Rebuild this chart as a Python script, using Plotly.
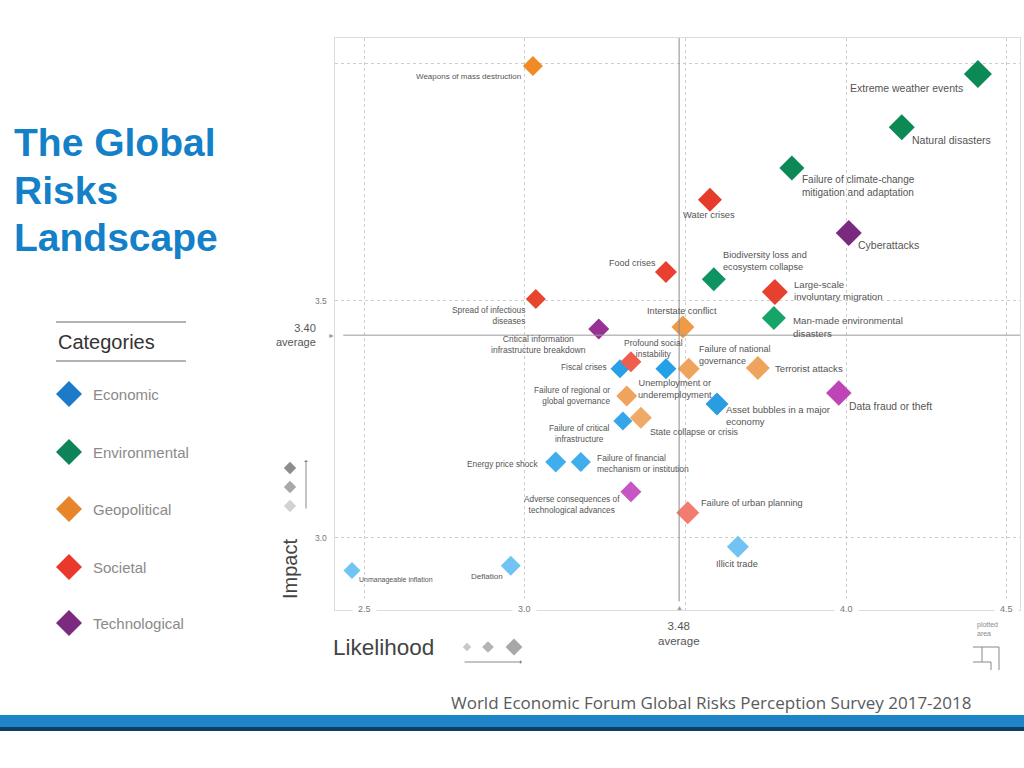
import plotly.graph_objects as go

W, H = 1024, 768

# ---------------- data ----------------
risks = [
    "Weapons of mass destruction", "Extreme weather events", "Natural disasters",
    "Failure of climate-change mitigation and adaptation", "Water crises", "Cyberattacks",
    "Food crises", "Biodiversity loss and ecosystem collapse", "Large-scale involuntary migration",
    "Spread of infectious diseases", "Man-made environmental disasters", "Interstate conflict",
    "Critical information infrastructure breakdown", "Profound social instability", "Fiscal crises",
    "Unemployment or underemployment", "Failure of national governance", "Terrorist attacks",
    "Data fraud or theft", "Failure of regional or global governance", "Asset bubbles in a major economy",
    "Failure of critical infrastructure", "State collapse or crisis", "Energy price shock",
    "Failure of financial mechanism or institution", "Adverse consequences of technological advances",
    "Failure of urban planning", "Illicit trade", "Deflation", "Unmanageable inflation",
]
category = [
    "Geopolitical", "Environmental", "Environmental", "Environmental", "Societal", "Technological",
    "Societal", "Environmental", "Societal", "Societal", "Environmental", "Geopolitical",
    "Technological", "Societal", "Economic", "Economic", "Geopolitical", "Geopolitical",
    "Technological", "Geopolitical", "Economic", "Economic", "Geopolitical", "Economic",
    "Economic", "Technological", "Societal", "Economic", "Economic", "Economic",
]
likelihood = [
    3.025, 4.410, 4.173, 3.831, 3.576, 4.008,
    3.439, 3.588, 3.778, 3.034, 3.775, 3.492,
    3.230, 3.330, 3.296, 3.439, 3.510, 3.725,
    3.977, 3.317, 3.598, 3.305, 3.361, 3.096,
    3.174, 3.330, 3.507, 3.663, 2.956, 2.462,
]
impact = [
    3.994, 3.977, 3.865, 3.779, 3.712, 3.642,
    3.560, 3.545, 3.518, 3.503, 3.463, 3.444,
    3.440, 3.371, 3.356, 3.356, 3.356, 3.358,
    3.305, 3.299, 3.282, 3.246, 3.253, 3.160,
    3.160, 3.097, 3.053, 2.981, 2.941, 2.931,
]
categories = ["Economic", "Environmental", "Geopolitical", "Societal", "Technological"]
x_tick_vals = [2.5, 3.0, 3.5, 4.0, 4.5]
x_tick_text = ["2.5", "3.0", "", "4.0", "4.5"]
y_tick_vals = [3.0, 3.5, 4.0]
y_tick_text = ["3.0", "3.5", ""]
avg_likelihood = 3.48
avg_likelihood_label = "3.48"
avg_impact_label = "3.40"
avg_impact_line = 3.427   # where the average line is drawn in the source picture

# ---------------- styles ----------------
cat_colors = {"Economic": "#1B7BC8", "Environmental": "#0D8457", "Geopolitical": "#E8852A",
              "Societal": "#E8392C", "Technological": "#7C2A80"}
point_colors = [
    "#F08A24", "#0B8A55", "#0B8A55", "#0B8A55", "#E63A2A", "#7A2A7E",
    "#E94130", "#0E9460", "#E6402F", "#E8452F", "#17A468", "#EE9A46",
    "#9A3095", "#EE5E4E", "#27A0E6", "#22A0E8", "#EFA45E", "#EFA45E",
    "#BD45B5", "#EFA45E", "#2A9CE2", "#36A6EA", "#F0AA68", "#40AEEC",
    "#40AEEC", "#C556C3", "#F47B70", "#70C3F2", "#70C3F2", "#70C3F2",
]
marker_px = [20, 28, 26, 25, 24, 26, 22, 24, 26, 20, 24, 23, 21, 21, 19,
             21, 22, 24, 25.5, 21, 23, 19, 22, 21, 20, 21, 23, 22, 20, 17]
label_wrap = {
    "Failure of climate-change mitigation and adaptation": "Failure of climate-change<br>mitigation and adaptation",
    "Biodiversity loss and ecosystem collapse": "Biodiversity loss and<br>ecosystem collapse",
    "Large-scale involuntary migration": "Large-scale<br>involuntary migration",
    "Spread of infectious diseases": "Spread of infectious<br>diseases",
    "Man-made environmental disasters": "Man-made environmental<br>disasters",
    "Critical information infrastructure breakdown": "Critical information<br>infrastructure breakdown",
    "Profound social instability": "Profound social<br>instability",
    "Unemployment or underemployment": "Unemployment or<br>underemployment",
    "Failure of national governance": "Failure of national<br>governance",
    "Failure of regional or global governance": "Failure of regional or<br>global governance",
    "Asset bubbles in a major economy": "Asset bubbles in a major<br>economy",
    "Failure of critical infrastructure": "Failure of critical<br>infrastructure",
    "Failure of financial mechanism or institution": "Failure of financial<br>mechanism or institution",
    "Adverse consequences of technological advances": "Adverse consequences of<br>technological advances",
}
# (xanchor, xshift px, yshift px, align, font size)
label_style = [
    ("right", -10, -10, "right", 8), ("right", -13, -14, "right", 10.5), ("left", 8, -13, "left", 10.5),
    ("left", 8, -18, "left", 10), ("center", -1, -15, "center", 9.4), ("left", 7, -12, "left", 10.5),
    ("right", -8, 9, "right", 9), ("left", 7, 18, "left", 9.2), ("left", 17, 1, "left", 9.6),
    ("right", -9, -16, "right", 8.3), ("left", 17, -9, "left", 9.7), ("center", -1, 16, "center", 9.2),
    ("right", -11, -16, "center", 8.6), ("center", 23, 13, "center", 8.5), ("right", -11, 2, "right", 8.3),
    ("center", 9, -20, "center", 9.2), ("left", 8, 14, "left", 9), ("left", 15, -1, "left", 9.6),
    ("left", 8, -13, "left", 10.3), ("right", -15, 0, "right", 8.3), ("left", 7, -12, "left", 9.5),
    ("right", -11, -12, "center", 8.3), ("left", 7, -14, "left", 8.8), ("right", -16, -2, "right", 8.3),
    ("left", 14, -2, "left", 8.5), ("right", -9, -13, "center", 8.3), ("left", 11, 10, "left", 9.2),
    ("center", -1, -17, "center", 9.3), ("right", -6, -11, "right", 8), ("left", 5, -9, "left", 7),
]

FONT = "Liberation Sans, Arial, sans-serif"


def px(x):
    return x / W


def py(y):
    return 1 - y / H


# plot area in pixels
PL, PR, PT, PB = 335, 1020, 38, 610
X_RANGE = [2.409, 4.541]
Y_RANGE = [2.848, 4.053]

fig = go.Figure()

# data points, one trace per category
for cat in categories:
    idx = [i for i, c in enumerate(category) if c == cat]
    fig.add_trace(go.Scatter(
        x=[likelihood[i] for i in idx], y=[impact[i] for i in idx],
        mode="markers", name=cat, text=[risks[i] for i in idx],
        marker=dict(symbol="diamond", size=[marker_px[i] / 1.3 for i in idx], opacity=1,
                    color=[point_colors[i] for i in idx], line=dict(width=0)),
        hovertemplate="%{text}<br>Likelihood %{x}<br>Impact %{y}<extra></extra>",
        showlegend=False, xaxis="x", yaxis="y",
    ))

# decorative overlay (legend diamonds etc.) in pixel space
leg_y = [394, 452, 509, 567, 623]
fig.add_trace(go.Scatter(
    x=[69] * 5, y=leg_y, mode="markers", xaxis="x2", yaxis="y2", showlegend=False,
    marker=dict(symbol="diamond", size=20, opacity=1, color=[cat_colors[c] for c in categories], line=dict(width=0)),
    hoverinfo="skip"))
fig.add_trace(go.Scatter(
    x=[290, 290, 290], y=[468, 487, 506], mode="markers", xaxis="x2", yaxis="y2", showlegend=False,
    marker=dict(symbol="diamond", size=9.5, opacity=1, color=["#8c8c8c", "#a8a8a8", "#d2d2d2"], line=dict(width=0)),
    hoverinfo="skip"))
fig.add_trace(go.Scatter(
    x=[467, 488, 514], y=[647, 647, 647], mode="markers", xaxis="x2", yaxis="y2", showlegend=False,
    marker=dict(symbol="diamond", size=[6.5, 9, 13], opacity=1, color=["#c8c8c8", "#b4b4b4", "#a8a8a8"],
                line=dict(width=0)),
    hoverinfo="skip"))

annotations = []

# point labels
for i, name in enumerate(risks):
    xa, dx, dy, al, fs = label_style[i]
    annotations.append(dict(
        x=likelihood[i], y=impact[i], xref="x", yref="y", showarrow=False,
        text=label_wrap.get(name, name), xanchor=xa, yanchor="middle",
        xshift=dx, yshift=dy, align=al, font=dict(family=FONT, size=fs, color="#555555")))

# x tick labels sitting on the axis line
for v, t in zip(x_tick_vals, x_tick_text):
    if t:
        annotations.append(dict(x=v, y=py(609), xref="x", yref="paper", text=t, showarrow=False,
                                xanchor="center", yanchor="middle", bgcolor="white", borderpad=5,
                                font=dict(family=FONT, size=9, color="#777777")))
# y tick labels
for v, t in zip(y_tick_vals, y_tick_text):
    if t:
        annotations.append(dict(x=px(329), y=v, xref="paper", yref="y", text=t, showarrow=False,
                                xanchor="right", yanchor="middle",
                                font=dict(family=FONT, size=8.5, color="#777777")))

# averages
annotations += [
    dict(x=px(318), y=avg_impact_line, xref="paper", yref="y", showarrow=False,
         text=avg_impact_label + "<br>average", xanchor="right", yanchor="middle", align="right",
         font=dict(family=FONT, size=11, color="#555555")),
    dict(x=px(331), y=avg_impact_line, xref="paper", yref="y", showarrow=False, text="►",
         xanchor="center", yanchor="middle", font=dict(family=FONT, size=7, color="#999999")),
    dict(x=avg_likelihood, y=py(607), xref="x", yref="paper", showarrow=False, text="▲",
         xanchor="center", yanchor="middle", font=dict(family=FONT, size=7, color="#999999")),
    dict(x=avg_likelihood, y=py(633), xref="x", yref="paper", showarrow=False,
         text=avg_likelihood_label + "<br>average", xanchor="center", yanchor="middle",
         font=dict(family=FONT, size=11.5, color="#555555")),
]

# title
for txt, yb in [("The Global", 142), ("Risks", 190), ("Landscape", 238)]:
    annotations.append(dict(x=px(12), y=py(yb), xref="paper", yref="paper", showarrow=False, text=txt,
                            xanchor="left", yanchor="middle",
                            font=dict(family=FONT, size=39, color="#1380C8", weight="bold")))

# categories panel
annotations.append(dict(x=px(56), y=py(342), xref="paper", yref="paper", showarrow=False,
                        text="Categories", xanchor="left", yanchor="middle",
                        font=dict(family=FONT, size=20, color="#333333")))
for c, yy in zip(categories, leg_y):
    annotations.append(dict(x=px(91), y=py(yy), xref="paper", yref="paper", showarrow=False,
                            text=c, xanchor="left", yanchor="middle",
                            font=dict(family=FONT, size=15, color="#8a8a8a")))

# axis titles
annotations += [
    dict(x=px(290), y=py(569), xref="paper", yref="paper", showarrow=False, text="Impact",
         textangle=-90, xanchor="center", yanchor="middle",
         font=dict(family=FONT, size=20, color="#444444")),
    dict(x=px(331), y=py(647), xref="paper", yref="paper", showarrow=False, text="Likelihood",
         xanchor="left", yanchor="middle", font=dict(family=FONT, size=22.5, color="#444444")),
    dict(x=px(306), y=py(460), xref="paper", yref="paper", ax=0, ay=50, text="", showarrow=True,
         arrowhead=1, arrowsize=0.7, arrowwidth=1, arrowcolor="#888888"),
    dict(x=px(522), y=py(662), xref="paper", yref="paper", ax=-59, ay=0, text="", showarrow=True,
         arrowhead=1, arrowsize=0.7, arrowwidth=1, arrowcolor="#888888"),
    dict(x=px(975), y=py(629), xref="paper", yref="paper", showarrow=False, text="plotted<br>area",
         xanchor="left", yanchor="middle", align="left",
         font=dict(family=FONT, size=7, color="#8a8a8a")),
    dict(x=px(711), y=py(702), xref="paper", yref="paper", showarrow=False,
         text="World Economic Forum Global Risks Perception Survey 2017-2018",
         xanchor="center", yanchor="middle", font=dict(family="Open Sans, DejaVu Sans", size=17, color="#5a5a5a")),
]

shapes = [
    # average lines
    dict(type="line", xref="x", yref="y domain", x0=avg_likelihood, x1=avg_likelihood, y0=0.015, y1=1,
         line=dict(color="#8a8a8a", width=1)),
    dict(type="line", xref="x domain", yref="y", x0=0.012, x1=1, y0=avg_impact_line, y1=avg_impact_line,
         line=dict(color="#9a9a9a", width=1)),
    # categories rules
    dict(type="line", xref="paper", yref="paper", x0=px(56), x1=px(186), y0=py(322), y1=py(322),
         line=dict(color="#666666", width=1)),
    dict(type="line", xref="paper", yref="paper", x0=px(56), x1=px(186), y0=py(361), y1=py(361),
         line=dict(color="#666666", width=1)),
    # footer band
    dict(type="rect", xref="paper", yref="paper", x0=0, x1=1, y0=py(728), y1=py(715),
         fillcolor="#1E86C8", line=dict(width=0), layer="below"),
    dict(type="rect", xref="paper", yref="paper", x0=0, x1=1, y0=py(731), y1=py(727),
         fillcolor="#0D3F66", line=dict(width=0), layer="below"),
]
# "plotted area" icon
for (x0, y0, x1, y1) in [(973, 647, 999, 647), (999, 647, 999, 670), (982, 647, 982, 662),
                         (973, 662, 991, 662), (991, 662, 991, 670)]:
    shapes.append(dict(type="line", xref="paper", yref="paper", x0=px(x0), y0=py(y0), x1=px(x1), y1=py(y1),
                       line=dict(color="#888888", width=1)))

fig.update_layout(
    width=W, height=H, autosize=False,
    margin=dict(l=0, r=0, t=0, b=0),
    paper_bgcolor="white", plot_bgcolor="rgba(0,0,0,0)",
    showlegend=False,
    xaxis=dict(domain=[px(PL), px(PR)], range=X_RANGE, tickvals=x_tick_vals, showticklabels=False,
               showgrid=True, gridcolor="#cdcdcd", griddash="3px,3px", gridwidth=1, zeroline=False,
               showline=True, mirror=True, linecolor="#dcdcdc", linewidth=1, ticks="", anchor="y"),
    yaxis=dict(domain=[py(PB), py(PT)], range=Y_RANGE, tickvals=y_tick_vals, showticklabels=False,
               showgrid=True, gridcolor="#cdcdcd", griddash="3px,3px", gridwidth=1, zeroline=False,
               showline=True, mirror=True, linecolor="#dcdcdc", linewidth=1, ticks="", anchor="x"),
    xaxis2=dict(domain=[0, 1], range=[0, W], visible=False, anchor="y2", fixedrange=True),
    yaxis2=dict(domain=[0, 1], range=[H, 0], visible=False, anchor="x2", fixedrange=True),
    annotations=annotations, shapes=shapes,
    font=dict(family=FONT),
)

fig.write_html("out.html", config={"displayModeBar": False},
               post_script="document.body.style.margin='0';document.body.style.overflow='hidden';")
